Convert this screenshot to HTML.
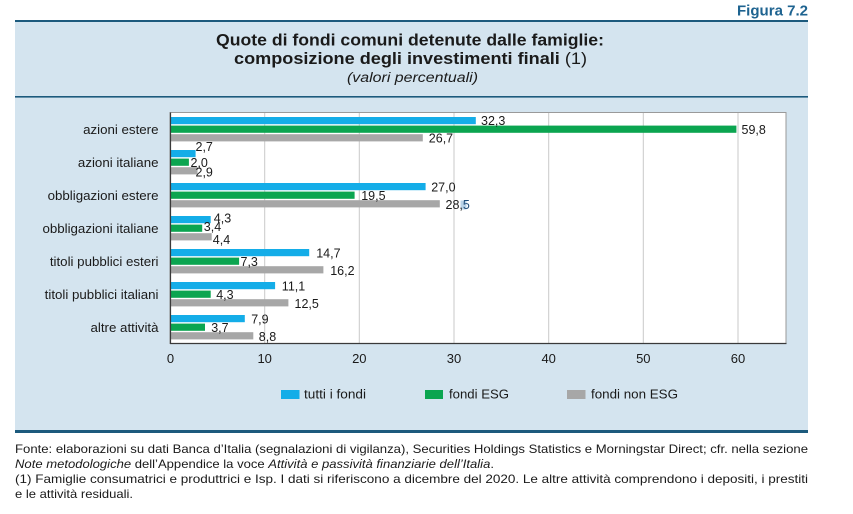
<!DOCTYPE html>
<html>
<head>
<meta charset="utf-8">
<style>
  html,body{margin:0;padding:0;background:#fff;}
  svg{display:block;}
  text{font-family:"Liberation Sans",Arial,sans-serif;fill:#1a1a1a;}
</style>
</head>
<body>
<svg width="853" height="514" viewBox="0 0 853 514" xmlns="http://www.w3.org/2000/svg">
  <rect x="0" y="0" width="853" height="514" fill="#ffffff"/>

  <!-- Figura label -->
  <text x="808" y="15.5" text-anchor="end" font-size="15" font-weight="bold" style="fill:#1e6390" textLength="71" lengthAdjust="spacingAndGlyphs">Figura 7.2</text>

  <!-- panel -->
  <rect x="15" y="21" width="793" height="410" fill="#d4e4ef"/>
  <rect x="15" y="20" width="793" height="2" fill="#1c5a7d"/>
  <rect x="15" y="96" width="793" height="1.6" fill="#1c5a7d"/>
  <rect x="15" y="430" width="793" height="3" fill="#1c5a7d"/>

  <!-- titles -->
  <text x="216" y="45.5" font-size="17" font-weight="bold" textLength="388" lengthAdjust="spacingAndGlyphs">Quote di fondi comuni detenute dalle famiglie:</text>
  <text x="234" y="64" font-size="17" textLength="353" lengthAdjust="spacingAndGlyphs"><tspan font-weight="bold">composizione degli investimenti finali</tspan> (1)</text>
  <text x="347" y="82" font-size="13.5" font-style="italic" textLength="131" lengthAdjust="spacingAndGlyphs">(valori percentuali)</text>

  <!-- plot area -->
  <rect x="170" y="112.5" width="616" height="231" fill="#ffffff" stroke="#9a9a9a" stroke-width="1"/>
  <!-- gridlines -->
  <g stroke="#c9c9c9" stroke-width="1">
    <line x1="264.7" y1="113" x2="264.7" y2="343"/>
    <line x1="359.3" y1="113" x2="359.3" y2="343"/>
    <line x1="454" y1="113" x2="454" y2="343"/>
    <line x1="548.7" y1="113" x2="548.7" y2="343"/>
    <line x1="643.3" y1="113" x2="643.3" y2="343"/>
    <line x1="738" y1="113" x2="738" y2="343"/>
  </g>

  <!-- bars -->
  <g>
    <rect x="170.5" y="117" width="305.3" height="7.2" fill="#14ade8"/>
    <rect x="170.5" y="125.6" width="565.9" height="7.2" fill="#0ba550"/>
    <rect x="170.5" y="134.2" width="252.3" height="7.2" fill="#a7a7a7"/>

    <rect x="170.5" y="150" width="25.1" height="7.2" fill="#14ade8"/>
    <rect x="170.5" y="158.6" width="18.4" height="7.2" fill="#0ba550"/>
    <rect x="170.5" y="167.2" width="27" height="7.2" fill="#a7a7a7"/>

    <rect x="170.5" y="183" width="255.1" height="7.2" fill="#14ade8"/>
    <rect x="170.5" y="191.6" width="184.1" height="7.2" fill="#0ba550"/>
    <rect x="170.5" y="200.2" width="269.3" height="7.2" fill="#a7a7a7"/>

    <rect x="170.5" y="216" width="40.2" height="7.2" fill="#14ade8"/>
    <rect x="170.5" y="224.6" width="31.7" height="7.2" fill="#0ba550"/>
    <rect x="170.5" y="233.2" width="41.2" height="7.2" fill="#a7a7a7"/>

    <rect x="170.5" y="249" width="138.7" height="7.2" fill="#14ade8"/>
    <rect x="170.5" y="257.6" width="68.6" height="7.2" fill="#0ba550"/>
    <rect x="170.5" y="266.2" width="152.9" height="7.2" fill="#a7a7a7"/>

    <rect x="170.5" y="282" width="104.6" height="7.2" fill="#14ade8"/>
    <rect x="170.5" y="290.6" width="40.2" height="7.2" fill="#0ba550"/>
    <rect x="170.5" y="299.2" width="117.9" height="7.2" fill="#a7a7a7"/>

    <rect x="170.5" y="315" width="74.3" height="7.2" fill="#14ade8"/>
    <rect x="170.5" y="323.6" width="34.5" height="7.2" fill="#0ba550"/>
    <rect x="170.5" y="332.2" width="82.8" height="7.2" fill="#a7a7a7"/>
  </g>

  <!-- axes -->
  <line x1="170.5" y1="112.5" x2="170.5" y2="344" stroke="#3a3a3a" stroke-width="1.2"/>
  <line x1="170" y1="343.5" x2="786.5" y2="343.5" stroke="#3a3a3a" stroke-width="1.2"/>

  <!-- highlight behind "5" of 28,5 -->
  <rect x="460.5" y="200.5" width="6" height="9" fill="#b9d3e8"/>

  <!-- value labels -->
  <g font-size="12.5">
    <text x="481" y="125">32,3</text>
    <text x="741.5" y="133.8">59,8</text>
    <text x="428.8" y="142.4">26,7</text>

    <text x="195.5" y="151.2">2,7</text>
    <text x="190.5" y="166.8">2,0</text>
    <text x="195.5" y="176.4">2,9</text>

    <text x="431.2" y="191.6">27,0</text>
    <text x="361.2" y="200.2">19,5</text>
    <text x="445.5" y="208.8">28,<tspan style="fill:#1f4c78">5</tspan></text>

    <text x="213.8" y="222.6">4,3</text>
    <text x="203.8" y="231.2">3,4</text>
    <text x="212.8" y="243.8">4,4</text>

    <text x="316.2" y="257.6">14,7</text>
    <text x="240.5" y="266.2">7,3</text>
    <text x="330.2" y="274.8">16,2</text>

    <text x="281.8" y="290.6">11,1</text>
    <text x="216.2" y="299.2">4,3</text>
    <text x="294.5" y="307.8">12,5</text>

    <text x="251.2" y="323.6">7,9</text>
    <text x="211.2" y="332.2">3,7</text>
    <text x="258.8" y="340.8">8,8</text>
  </g>

  <!-- category labels -->
  <g font-size="13.3" text-anchor="end">
    <text x="158.5" y="134">azioni estere</text>
    <text x="158.5" y="167">azioni italiane</text>
    <text x="158.5" y="200">obbligazioni estere</text>
    <text x="158.5" y="233">obbligazioni italiane</text>
    <text x="158.5" y="266">titoli pubblici esteri</text>
    <text x="158.5" y="299">titoli pubblici italiani</text>
    <text x="158.5" y="332">altre attività</text>
  </g>

  <!-- tick labels -->
  <g font-size="13" text-anchor="middle">
    <text x="170.5" y="363">0</text>
    <text x="264.7" y="363">10</text>
    <text x="359.3" y="363">20</text>
    <text x="454" y="363">30</text>
    <text x="548.7" y="363">40</text>
    <text x="643.3" y="363">50</text>
    <text x="738" y="363">60</text>
  </g>

  <!-- legend -->
  <rect x="281" y="390" width="18.5" height="9" fill="#14ade8"/>
  <text x="304" y="398.5" font-size="13.3" textLength="62" lengthAdjust="spacingAndGlyphs">tutti i fondi</text>
  <rect x="425" y="390" width="18" height="9" fill="#0ba550"/>
  <text x="449" y="398.5" font-size="13.3" textLength="60" lengthAdjust="spacingAndGlyphs">fondi ESG</text>
  <rect x="567" y="390" width="18.5" height="9" fill="#a7a7a7"/>
  <text x="591" y="398.5" font-size="13.3" textLength="87" lengthAdjust="spacingAndGlyphs">fondi non ESG</text>

  <!-- footer -->
  <g font-size="12" style="fill:#222">
    <text x="15" y="453" textLength="793" lengthAdjust="spacingAndGlyphs">Fonte: elaborazioni su dati Banca d’Italia (segnalazioni di vigilanza), Securities Holdings Statistics e Morningstar Direct; cfr. nella sezione</text>
    <text x="15" y="468" textLength="479" lengthAdjust="spacingAndGlyphs"><tspan font-style="italic">Note metodologiche</tspan> dell’Appendice la voce <tspan font-style="italic">Attività e passività finanziarie dell’Italia</tspan>.</text>
    <text x="15" y="483" textLength="793" lengthAdjust="spacingAndGlyphs">(1) Famiglie consumatrici e produttrici e Isp. I dati si riferiscono a dicembre del 2020. Le altre attività comprendono i depositi, i prestiti</text>
    <text x="15" y="498" textLength="118" lengthAdjust="spacingAndGlyphs">e le attività residuali.</text>
  </g>
</svg>
</body>
</html>
